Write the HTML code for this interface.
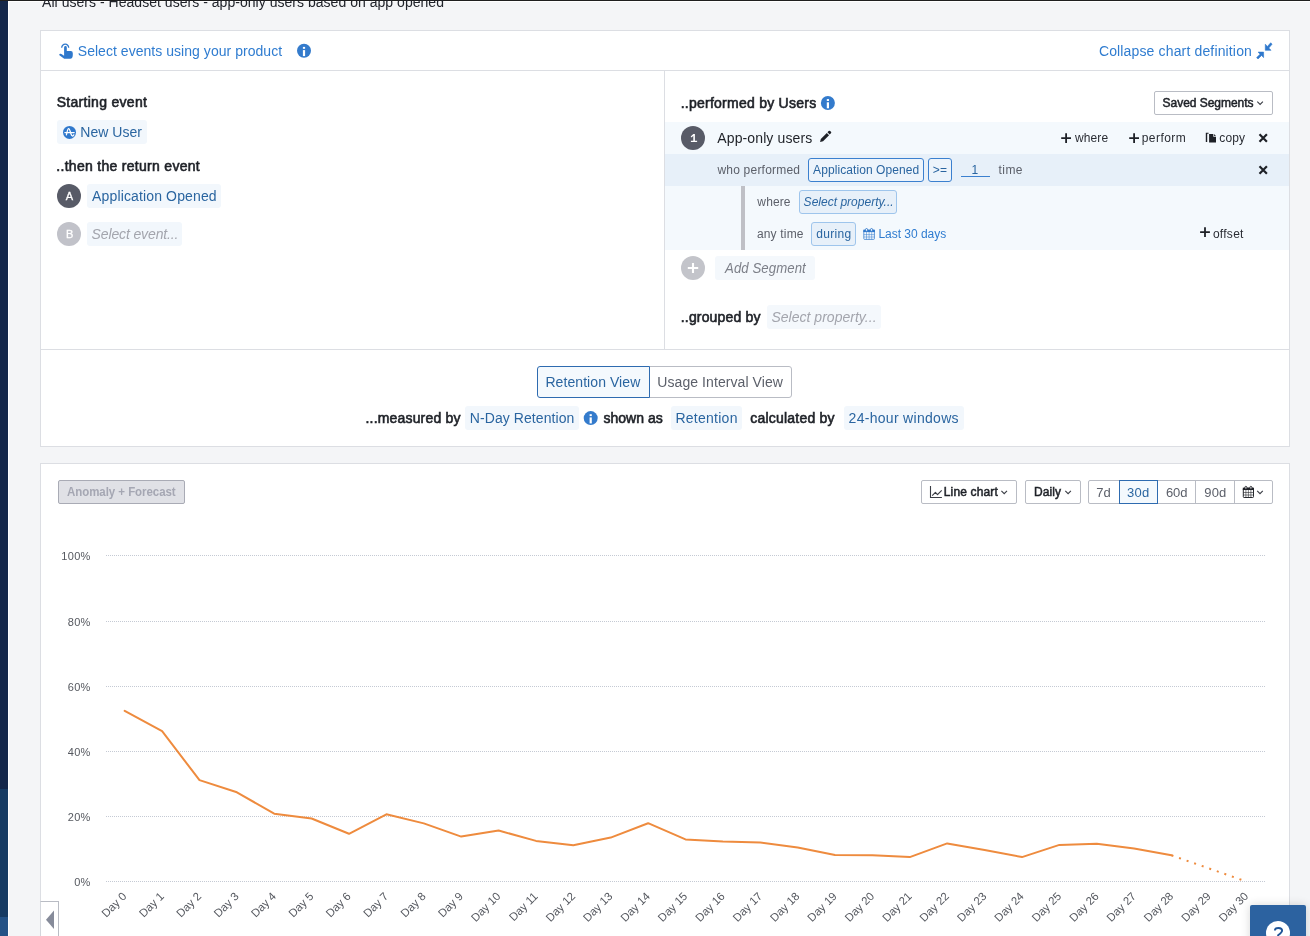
<!DOCTYPE html>
<html lang="en"><head><meta charset="utf-8"><title>Retention Analysis</title>
<style>
html,body{margin:0;padding:0}
body{width:1310px;height:936px;overflow:hidden;position:relative;background:#f4f5f7;font-family:"Liberation Sans",sans-serif}
.b{position:absolute;box-sizing:border-box}
.t{position:absolute;white-space:pre;font-family:"Liberation Sans",sans-serif}
.panel{background:#fff;border:1px solid #dcdee3}
.chip{background:#f2f7fc;border-radius:3px}
.circ{border-radius:50%}
.btn{border:1px solid #b9bcc4;border-radius:2px;background:#fff}
svg{position:absolute;left:0;top:0;overflow:visible}
.layer{position:absolute;left:0;top:0;width:1310px;height:936px;will-change:transform}

</style></head>
<body>
<!-- app chrome -->
<div class="b" style="left:0;top:0;width:8px;height:789px;background:#14274a"></div>
<div class="b" style="left:0;top:789px;width:8px;height:128px;background:#173b63"></div>
<div class="b" style="left:0;top:917px;width:8px;height:19px;background:#245286"></div>
<div class="b" style="left:8px;top:0;width:1px;height:936px;background:#fff"></div>
<div class="b" style="left:8px;top:1px;width:1302px;height:1px;background:#fff"></div>
<div class="b" style="left:0;top:0;width:1310px;height:1px;background:#1f1f1f"></div>

<!-- chart definition panel -->
<div class="b panel" style="left:40px;top:30px;width:1250px;height:417px"></div>
<div class="b" style="left:41px;top:70px;width:1248px;height:1px;background:#dcdee3"></div>
<div class="b" style="left:41px;top:349px;width:1248px;height:1px;background:#dcdee3"></div>
<div class="b" style="left:664px;top:71px;width:1px;height:278px;background:#dcdee3"></div>

<!-- left column chips -->
<div class="b chip" style="left:57px;top:120px;width:90px;height:24px"></div>
<div class="b circ" style="left:57px;top:184px;width:24px;height:24px;background:#585b67"></div>
<div class="b chip" style="left:87px;top:184px;width:134px;height:24px"></div>
<div class="b circ" style="left:57px;top:222px;width:24px;height:24px;background:#c1c2c9"></div>
<div class="b chip" style="left:87px;top:222px;width:95px;height:24px"></div>

<!-- right column: segment -->
<div class="b btn" style="left:1154px;top:91px;width:119px;height:24px"></div>
<div class="b" style="left:665px;top:122px;width:624px;height:32px;background:#f4f9fd"></div>
<div class="b" style="left:665px;top:154px;width:624px;height:32px;background:#e7f0f9"></div>
<div class="b" style="left:665px;top:186px;width:624px;height:64px;background:#f4f9fd"></div>
<div class="b" style="left:741px;top:186px;width:4px;height:64px;background:#bfc0c6"></div>
<div class="b circ" style="left:681px;top:126px;width:24px;height:24px;background:#585b67"></div>
<div class="b" style="left:808px;top:158px;width:116px;height:24px;border:1px solid #3b80cf;border-radius:3px;background:#edf4fb"></div>
<div class="b" style="left:928px;top:158px;width:24px;height:24px;border:1px solid #3b80cf;border-radius:3px;background:#edf4fb"></div>
<div class="b" style="left:961px;top:176px;width:29px;height:1px;background:#3b80cf"></div>
<div class="b" style="left:799px;top:190px;width:98px;height:24px;border:1px solid #9ec5ec;border-radius:3px;background:#e7f0f9"></div>
<div class="b" style="left:811px;top:222px;width:45px;height:24px;border:1px solid #9ec5ec;border-radius:3px;background:#e7f0f9"></div>
<div class="b circ" style="left:681px;top:256px;width:24px;height:24px;background:#c3c4ca"></div>
<div class="b chip" style="left:715px;top:256px;width:100px;height:24px;background:#f4f8fc"></div>
<div class="b chip" style="left:767px;top:305px;width:114px;height:24px;background:#f4f8fc"></div>

<!-- view toggle -->
<div class="b" style="left:649px;top:366px;width:143px;height:32px;border:1px solid #b9bcc4;border-radius:0 3px 3px 0;background:#fff"></div>
<div class="b" style="left:537px;top:366px;width:113px;height:32px;border:1px solid #2e6bb0;border-radius:3px 0 0 3px;background:#f4f9fd"></div>
<div class="b chip" style="left:465px;top:406px;width:114px;height:24px"></div>
<div class="b chip" style="left:671px;top:406px;width:71px;height:24px"></div>
<div class="b chip" style="left:844px;top:406px;width:120px;height:24px"></div>

<!-- chart panel -->
<div class="b panel" style="left:40px;top:463px;width:1250px;height:480px"></div>
<div class="b" style="left:58px;top:480px;width:127px;height:24px;border:1px solid #a9abb5;border-radius:2px;background:#e0e1e6"></div>
<div class="b btn" style="left:921px;top:480px;width:96px;height:24px"></div>
<div class="b btn" style="left:1025px;top:480px;width:56px;height:24px"></div>
<div class="b btn" style="left:1088px;top:480px;width:185px;height:24px"></div>
<div class="b" style="left:1157px;top:481px;width:1px;height:22px;background:#b9bcc4"></div>
<div class="b" style="left:1195px;top:481px;width:1px;height:22px;background:#b9bcc4"></div>
<div class="b" style="left:1234px;top:481px;width:1px;height:22px;background:#b9bcc4"></div>
<div class="b" style="left:1119px;top:480px;width:39px;height:24px;border:1px solid #2e6bb0;background:#f4f9fd"></div>

<!-- bottom-left toggle -->
<div class="b" style="left:40px;top:901px;width:19px;height:40px;border:1px solid #b9bcc4;border-left-color:#d4d7dd;background:#fff"></div>
<!-- help button -->
<div class="b" style="left:1250px;top:905px;width:56px;height:40px;background:#2c62a0;border-radius:2px 2px 0 0;box-shadow:0 0 10px rgba(0,0,0,.16)"></div>
<div class="b circ" style="left:1266px;top:921px;width:24px;height:24px;background:#fff"></div>

<div class="layer">
<svg width="1310" height="936" viewBox="0 0 1310 936" font-family="Liberation Sans, sans-serif">
<g stroke="#c5cad4" stroke-width="1" stroke-dasharray="1 1" fill="none">
<path d="M106 555.5H1265"/>
<path d="M106 621.5H1265"/>
<path d="M106 686.5H1265"/>
<path d="M106 751.5H1265"/>
<path d="M106 816.5H1265"/>
<path d="M106 881.5H1265"/>
</g>
<g font-size="11" fill="#55585f" text-anchor="end" letter-spacing=".3">
<text x="90.7" y="559.9">100%</text>
<text x="90.7" y="625.9">80%</text>
<text x="90.7" y="690.9">60%</text>
<text x="90.7" y="755.9">40%</text>
<text x="90.7" y="820.9">20%</text>
<text x="90.7" y="885.9">0%</text>
</g>
<g font-size="11.4" fill="#55585f" text-anchor="end">
<text transform="translate(127.3 896.9) rotate(-45)">Day 0</text>
<text transform="translate(164.7 896.9) rotate(-45)">Day 1</text>
<text transform="translate(202.1 896.9) rotate(-45)">Day 2</text>
<text transform="translate(239.5 896.9) rotate(-45)">Day 3</text>
<text transform="translate(276.8 896.9) rotate(-45)">Day 4</text>
<text transform="translate(314.2 896.9) rotate(-45)">Day 5</text>
<text transform="translate(351.6 896.9) rotate(-45)">Day 6</text>
<text transform="translate(389.0 896.9) rotate(-45)">Day 7</text>
<text transform="translate(426.4 896.9) rotate(-45)">Day 8</text>
<text transform="translate(463.8 896.9) rotate(-45)">Day 9</text>
<text transform="translate(501.2 896.9) rotate(-45)">Day 10</text>
<text transform="translate(538.6 896.9) rotate(-45)">Day 11</text>
<text transform="translate(575.9 896.9) rotate(-45)">Day 12</text>
<text transform="translate(613.3 896.9) rotate(-45)">Day 13</text>
<text transform="translate(650.7 896.9) rotate(-45)">Day 14</text>
<text transform="translate(688.1 896.9) rotate(-45)">Day 15</text>
<text transform="translate(725.5 896.9) rotate(-45)">Day 16</text>
<text transform="translate(762.9 896.9) rotate(-45)">Day 17</text>
<text transform="translate(800.3 896.9) rotate(-45)">Day 18</text>
<text transform="translate(837.6 896.9) rotate(-45)">Day 19</text>
<text transform="translate(875.0 896.9) rotate(-45)">Day 20</text>
<text transform="translate(912.4 896.9) rotate(-45)">Day 21</text>
<text transform="translate(949.8 896.9) rotate(-45)">Day 22</text>
<text transform="translate(987.2 896.9) rotate(-45)">Day 23</text>
<text transform="translate(1024.6 896.9) rotate(-45)">Day 24</text>
<text transform="translate(1062.0 896.9) rotate(-45)">Day 25</text>
<text transform="translate(1099.4 896.9) rotate(-45)">Day 26</text>
<text transform="translate(1136.7 896.9) rotate(-45)">Day 27</text>
<text transform="translate(1174.1 896.9) rotate(-45)">Day 28</text>
<text transform="translate(1211.5 896.9) rotate(-45)">Day 29</text>
<text transform="translate(1248.9 896.9) rotate(-45)">Day 30</text>
</g>
<path d="M124.7 710.8 L162.1 731.2 L199.5 780.1 L236.9 792.3 L274.2 813.7 L311.6 818.5 L349.0 833.8 L386.4 814.3 L423.8 823.4 L461.2 836.6 L498.6 830.5 L536.0 840.9 L573.3 845.2 L610.7 837.6 L648.1 823.2 L685.5 839.4 L722.9 841.5 L760.3 842.4 L797.7 847.6 L835.0 855.0 L872.4 855.2 L909.8 857.1 L947.2 843.4 L984.6 850.1 L1022.0 857.1 L1059.4 844.9 L1096.8 843.7 L1134.1 848.5 L1171.5 855.3" fill="none" stroke="#ee8b3e" stroke-width="2" stroke-linejoin="round" stroke-linecap="round"/>
<path d="M1171.5 855.3 L1246.3 881.5" fill="none" stroke="#ee8b3e" stroke-width="2" stroke-dasharray="2 6"/>
<!-- hand pointer -->
<g fill="#2f78cc">
<path d="M64.1 47.4a1.35 1.35 0 0 1 2.7 0V51H70.8q2 0 2 2.2V55q0 3.7-2.6 3.7H64.2L59.4 55.3q-.6-1.300.7-1.500q1-.200 2.100.6L64.100 55.7Z"/>
<path d="M61.700 47.700A3.500 3.500 0 1 1 68.700 47.700" fill="none" stroke="#2f78cc" stroke-width="1.250"/>
</g>
<!-- info icons -->
<g><circle cx="304.0" cy="50.8" r="7" fill="#347bcc"/><rect x="302.9" y="46.9" width="2.200" height="1.900" fill="#fff"/><rect x="302.9" y="50.1" width="2.200" height="6" fill="#fff"/></g>
<g><circle cx="827.9" cy="103.0" r="7" fill="#347bcc"/><rect x="826.8" y="99.1" width="2.200" height="1.900" fill="#fff"/><rect x="826.8" y="102.3" width="2.200" height="6" fill="#fff"/></g>
<g><circle cx="590.7" cy="418.1" r="7" fill="#347bcc"/><rect x="589.6" y="414.2" width="2.200" height="1.900" fill="#fff"/><rect x="589.6" y="417.4" width="2.200" height="6" fill="#fff"/></g>
<!-- compress icon -->
<g fill="#2f78cc" stroke="#2f78cc" stroke-linejoin="round" stroke-width=".6">
<path d="M1265.300 44.200V50.300H1271L1268.800 48L1272.100 44.200L1270.700 42.800L1267.400 46.500Z"/>
<path d="M1263.600 57.600V52.100H1258.100L1260.100 54.200L1256.600 57.600L1258 59L1261.500 55.500Z"/>
</g>
<!-- amplitude logo -->
<circle cx="69.500" cy="132.400" r="6.500" fill="#2f78cc"/>
<g fill="none" stroke="#fff" stroke-width="1.250" stroke-linecap="round">
<path d="M64.900 132.600H74.200"/>
<path d="M66.400 134.900C67.100 132 67.600 128.500 68.600 128.500C69.700 128.500 70.300 132 71 134C71.700 136.300 72.900 136.700 73.800 134.900"/>
</g>
<!-- pencil -->
<g transform="translate(820.100 141.900) rotate(-45)" fill="#1e2127">
<path d="M0 0L2.600 -1.600H11.100V1.600H2.600Z"/>
<path d="M12 -1.600H13.700Q14.800 -1.600 14.800 -.6V.6Q14.800 1.600 13.700 1.600H12Z"/>
</g>
<!-- plus icons -->
<g stroke="#1e2127" stroke-width="1.800" fill="none">
<path d="M1061.200 138.200H1071M1066.100 133.300V143.100"/>
<path d="M1129.200 138.200H1139M1134.100 133.300V143.100"/>
<path d="M1200.100 232.200H1209.900M1205 227.300V237.100"/>
</g>
<!-- copy icon -->
<g fill="#1e2127">
<path d="M1205.800 132.800H1208.600V133.800H1207.200V142H1205.800Z"/>
<path d="M1209.100 134H1213.300V136.700H1216V142.600H1209.100Z"/>
<path d="M1214.100 134.100L1215.900 135.900H1214.100Z"/>
</g>
<!-- close x -->
<g stroke="#1e2127" stroke-width="2.200" fill="none">
<path d="M1259.500 134.300L1266.900 141.700M1266.900 134.300L1259.500 141.700"/>
<path d="M1259.500 166.300L1266.900 173.700M1266.900 166.300L1259.500 173.700"/>
</g>
<!-- calendar (blue small) -->
<g>
<rect x="863.800" y="230.200" width="10.600" height="9.200" rx=".8" fill="none" stroke="#2f78cc" stroke-width="1" stroke-opacity=".75"/>
<rect x="863.300" y="229.700" width="11.600" height="2.400" fill="#2f78cc"/>
<path d="M866.500 232V239.400M869.100 232V239.400M871.700 232V239.400M863.800 234.600H874.400M863.800 237H874.400" stroke="#2f78cc" stroke-opacity=".55" stroke-width=".9" fill="none"/>
<rect x="865.600" y="228.500" width="1.900" height="2.800" rx=".9" fill="#fff" stroke="#2f78cc" stroke-width=".9"/>
<rect x="870.600" y="228.500" width="1.900" height="2.800" rx=".9" fill="#fff" stroke="#2f78cc" stroke-width=".9"/>
</g>
<!-- calendar (dark, toolbar) -->
<g>
<rect x="1243.300" y="488.200" width="10.200" height="9.300" rx=".8" fill="none" stroke="#26282e" stroke-width="1"/>
<rect x="1242.800" y="487.700" width="11.200" height="2.300" fill="#1e2026"/>
<path d="M1245.900 490V497.500M1248.400 490V497.500M1250.900 490V497.500M1243.300 492.500H1253.500M1243.300 495H1253.500" stroke="#26282e" stroke-opacity=".85" stroke-width=".7" fill="none"/>
<rect x="1245" y="486.300" width="1.800" height="2.800" rx=".9" fill="#fff" stroke="#26282e" stroke-width=".9"/>
<rect x="1250" y="486.300" width="1.800" height="2.800" rx=".9" fill="#fff" stroke="#26282e" stroke-width=".9"/>
</g>
<!-- line chart icon -->
<g stroke="#3a3d45" fill="none" stroke-width="1.100">
<path d="M930.500 486V497.500H941.900"/>
<path d="M932.200 495.600L935.400 492.400L937.500 494.700L941.700 490.300" stroke-width="1.150" stroke-linejoin="round"/>
</g>
<!-- chevrons -->
<g stroke="#3a3d45" fill="none" stroke-width="1.100">
<path d="M1257.300 101.600L1260.100 104.400L1262.900 101.600"/>
<path d="M1001.400 490.800L1004.200 493.600L1007 490.800"/>
<path d="M1065.300 490.800L1068.100 493.600L1070.900 490.800"/>
<path d="M1257.200 490.800L1260 493.600L1262.800 490.800"/>
</g>
<!-- add segment plus -->
<path d="M687.800 268H698.200M693 262.900V273.100" stroke="#fff" stroke-width="2.100" fill="none"/>
<!-- left triangle -->
<path d="M54 910.500V929L46 919.700Z" fill="#868b9a"/>
<!-- help question mark -->
<path d="M1274.900 930.400Q1274.900 928 1278.500 928Q1282.100 928 1282.100 930.600Q1282.100 932.600 1278.100 935.200V938" fill="none" stroke="#1f5598" stroke-width="1.900"/>
<!-- segment number one -->
<path d="M690.700 136.400L693.300 134H694.900V140.700H697.100V142H690.900V140.700H693.300V135.800L691.600 137.400Z" fill="#fff"/>

</svg>
<span class="t" style="left:42.10px;top:-8.00px;color:#20232a;font-size:14px;line-height:20px;letter-spacing:0.030px;">All users - Headset users - app-only users based on app opened</span>
<span class="t" style="left:77.75px;top:40.60px;color:#2f7cd0;font-size:14px;line-height:20px;letter-spacing:0.040px;">Select events using your product</span>
<span class="t" style="left:1098.88px;top:41.00px;color:#2f7cd0;font-size:14px;line-height:20px;letter-spacing:0.148px;">Collapse chart definition</span>
<span class="t" style="left:56.66px;top:92.40px;color:#1e2127;font-size:14px;line-height:20px;letter-spacing:0.296px;-webkit-text-stroke:0.6px #1e2127;">Starting event</span>
<span class="t" style="left:80.27px;top:122.00px;color:#2a65a0;font-size:14px;line-height:20px;letter-spacing:0.030px;">New User</span>
<span class="t" style="left:56.33px;top:156.00px;color:#1e2127;font-size:14px;line-height:20px;letter-spacing:0.292px;-webkit-text-stroke:0.6px #1e2127;">..then the return event</span>
<span class="t" style="left:92.09px;top:186.00px;color:#2a65a0;font-size:14px;line-height:20px;letter-spacing:0.138px;">Application Opened</span>
<span class="t" style="left:91.60px;top:224.00px;color:#a3a5ad;font-size:14px;line-height:20px;letter-spacing:-0.132px;font-style:italic;">Select event...</span>
<span class="t" style="left:680.66px;top:92.70px;color:#1e2127;font-size:14px;line-height:20px;letter-spacing:0.252px;-webkit-text-stroke:0.6px #1e2127;">..performed by Users</span>
<span class="t" style="left:1162.62px;top:93.70px;color:#1e2127;font-size:12px;line-height:18px;letter-spacing:-0.040px;-webkit-text-stroke:0.5px #1e2127;">Saved Segments</span>
<span class="t" style="left:717.27px;top:127.60px;color:#1e2127;font-size:14px;line-height:20px;letter-spacing:0.122px;">App-only users</span>
<span class="t" style="left:1075.02px;top:129.00px;color:#2a2d34;font-size:12px;line-height:18px;letter-spacing:0.115px;">where</span>
<span class="t" style="left:1141.75px;top:129.00px;color:#2a2d34;font-size:12px;line-height:18px;letter-spacing:0.449px;">perform</span>
<span class="t" style="left:1219.29px;top:128.80px;color:#2a2d34;font-size:12px;line-height:18px;letter-spacing:0.157px;">copy</span>
<span class="t" style="left:717.46px;top:160.60px;color:#5c606a;font-size:12px;line-height:18px;letter-spacing:0.206px;">who performed</span>
<span class="t" style="left:813.07px;top:160.70px;color:#2a65a0;font-size:12px;line-height:18px;letter-spacing:0.083px;">Application Opened</span>
<span class="t" style="left:932.84px;top:160.70px;color:#2a65a0;font-size:12px;line-height:18px;letter-spacing:0.250px;">&gt;=</span>
<span class="t" style="left:971.60px;top:160.70px;color:#2a65a0;font-size:12px;line-height:18px;">1</span>
<span class="t" style="left:998.50px;top:161.00px;color:#5c606a;font-size:12px;line-height:18px;letter-spacing:0.450px;">time</span>
<span class="t" style="left:757.37px;top:193.00px;color:#5c606a;font-size:12px;line-height:18px;letter-spacing:0.109px;">where</span>
<span class="t" style="left:803.62px;top:193.00px;color:#2a65a0;font-size:12px;line-height:18px;letter-spacing:0.013px;font-style:italic;">Select property...</span>
<span class="t" style="left:756.89px;top:224.50px;color:#5c606a;font-size:12px;line-height:18px;letter-spacing:0.182px;">any time</span>
<span class="t" style="left:816.21px;top:224.50px;color:#2a65a0;font-size:12px;line-height:18px;letter-spacing:0.339px;">during</span>
<span class="t" style="left:878.47px;top:224.50px;color:#2f7cd0;font-size:12px;line-height:18px;letter-spacing:-0.032px;">Last 30 days</span>
<span class="t" style="left:1212.89px;top:224.80px;color:#2a2d34;font-size:12px;line-height:18px;letter-spacing:0.289px;">offset</span>
<span class="t" style="left:724.96px;top:257.50px;color:#7c7f88;font-size:14.5px;line-height:20px;letter-spacing:0.085px;font-style:italic;transform:scaleX(0.91);transform-origin:0 0;">Add Segment</span>
<span class="t" style="left:680.81px;top:307.00px;color:#1e2127;font-size:14px;line-height:20px;letter-spacing:0.162px;-webkit-text-stroke:0.6px #1e2127;">..grouped by</span>
<span class="t" style="left:771.43px;top:307.00px;color:#a3a5ad;font-size:14px;line-height:20px;letter-spacing:0.018px;font-style:italic;">Select property...</span>
<span class="t" style="left:545.45px;top:372.00px;color:#2a65a0;font-size:14px;line-height:20px;letter-spacing:0.070px;">Retention View</span>
<span class="t" style="left:657.32px;top:372.00px;color:#5c606a;font-size:14px;line-height:20px;letter-spacing:0.072px;">Usage Interval View</span>
<span class="t" style="left:365.53px;top:407.50px;color:#1e2127;font-size:14px;line-height:20px;letter-spacing:0.174px;-webkit-text-stroke:0.6px #1e2127;">...measured by</span>
<span class="t" style="left:469.77px;top:407.50px;color:#2a65a0;font-size:14px;line-height:20px;letter-spacing:0.076px;">N-Day Retention</span>
<span class="t" style="left:603.39px;top:407.50px;color:#1e2127;font-size:14px;line-height:20px;letter-spacing:0.031px;-webkit-text-stroke:0.6px #1e2127;">shown as</span>
<span class="t" style="left:675.46px;top:407.50px;color:#2a65a0;font-size:14px;line-height:20px;letter-spacing:0.258px;">Retention</span>
<span class="t" style="left:750.34px;top:407.50px;color:#1e2127;font-size:14px;line-height:20px;letter-spacing:0.205px;-webkit-text-stroke:0.6px #1e2127;">calculated by</span>
<span class="t" style="left:848.56px;top:407.50px;color:#2a65a0;font-size:14px;line-height:20px;letter-spacing:0.299px;">24-hour windows</span>
<span class="t" style="left:66.90px;top:483.00px;color:#a5a7b3;font-size:12.5px;line-height:18px;letter-spacing:-0.058px;font-weight:700;transform:scaleX(0.92);transform-origin:0 0;">Anomaly + Forecast</span>
<span class="t" style="left:943.76px;top:482.60px;color:#1e2127;font-size:12px;line-height:18px;letter-spacing:0.152px;-webkit-text-stroke:0.5px #1e2127;">Line chart</span>
<span class="t" style="left:1033.90px;top:482.60px;color:#1e2127;font-size:12px;line-height:18px;letter-spacing:0.108px;-webkit-text-stroke:0.5px #1e2127;">Daily</span>
<span class="t" style="left:1096.16px;top:482.50px;color:#5c606a;font-size:13px;line-height:19px;letter-spacing:0.226px;">7d</span>
<span class="t" style="left:1127.04px;top:482.50px;color:#2a65a0;font-size:13px;line-height:19px;letter-spacing:0.250px;">30d</span>
<span class="t" style="left:1165.93px;top:482.50px;color:#5c606a;font-size:13px;line-height:19px;letter-spacing:-0.108px;">60d</span>
<span class="t" style="left:1204.37px;top:482.50px;color:#5c606a;font-size:13px;line-height:19px;letter-spacing:0.115px;">90d</span>
<span class="t" style="left:65.75px;top:188.00px;color:#fff;font-size:11px;line-height:17px;-webkit-text-stroke:0.3px #fff;">A</span>
<span class="t" style="left:66.05px;top:226.10px;color:#fff;font-size:11px;line-height:17px;-webkit-text-stroke:0.3px #fff;">B</span>
</div>
</body></html>
